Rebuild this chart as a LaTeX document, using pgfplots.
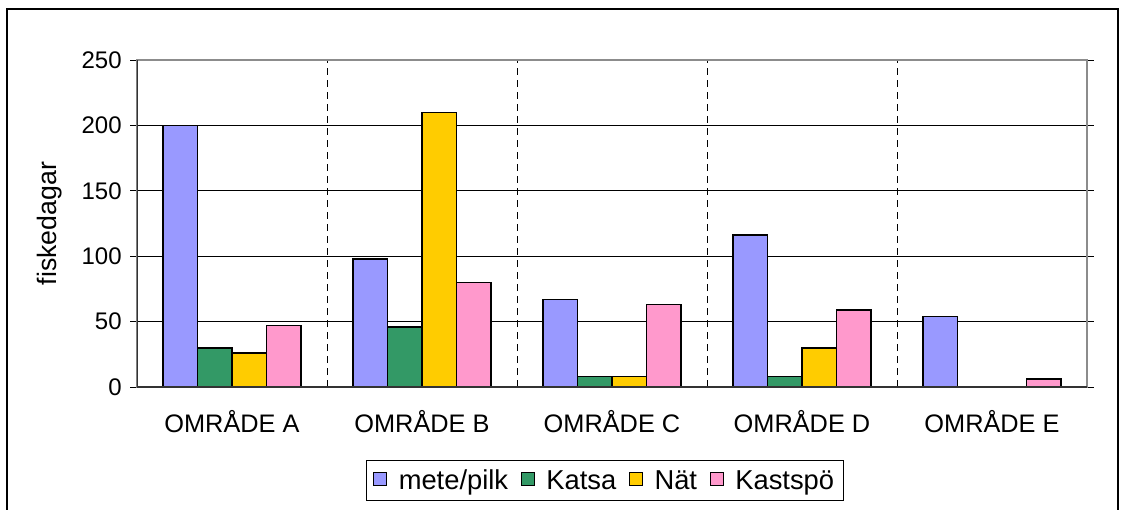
\documentclass[border=0pt]{standalone}
\usepackage{fontspec}
\setmainfont{Liberation Sans}
\usepackage{pgfplots}
\pgfplotsset{compat=1.18}
\definecolor{cmete}{HTML}{9999FF}
\definecolor{ckatsa}{HTML}{339966}
\definecolor{cnat}{HTML}{FFCC00}
\definecolor{ckast}{HTML}{FF99CC}
\begin{document}
\begin{tikzpicture}
\useasboundingbox (-102.75pt,-92.25pt) rectangle (742.5pt,290.25pt);
\draw[black, line width=0.8pt] (-97.5pt,-100pt) -- (-97.5pt,283.5pt) -- (735.75pt,283.5pt) -- (735.75pt,-100pt);
\begin{axis}[
  at={(0pt,0pt)}, anchor=south west,
  scale only axis, width=712.5pt, height=245.25pt,
  ybar=0pt, bar width=25.8pt,
  xmin=-0.5, xmax=4.5, ymin=0, ymax=250,
  xtick={0,1,2,3,4},
  xticklabels={OMRÅDE A,OMRÅDE B,OMRÅDE C,OMRÅDE D,OMRÅDE E},
  minor xtick={0.5,1.5,2.5,3.5},
  xminorgrids, minor x grid style={black, line width=0.6pt, dash pattern=on 5pt off 4pt},
  ytick={0,50,...,250},
  ymajorgrids, major y grid style={black, line width=0.6pt},
  major x tick style={draw=none},
  minor x tick style={draw=none},
  y tick style={black, line width=0.6pt},
  tick align=outside, major tick length=5pt,
  axis line style={draw=black!45, line width=0.8pt},
  /pgf/number format/assume math mode=true,
  yticklabel style={font=\fontsize{18pt}{21pt}\selectfont, xshift=-3pt},
  xticklabel style={font=\fontsize{19pt}{22pt}\selectfont, yshift=-9pt},
  ylabel={fiskedagar},
  ylabel style={font=\fontsize{20pt}{23pt}\selectfont, yshift=8pt},
  legend columns=4,
  legend style={at={(0.4926,-0.2232)}, anchor=north, draw=black, line width=0.6pt,
    font=\fontsize{20.5pt}{23pt}\selectfont, inner xsep=5pt, inner ysep=5pt,
    cells={anchor=west, inner sep=1pt},
    /tikz/every odd column/.append style={column sep=6.5pt},
    /tikz/every even column/.append style={column sep=7.5pt}},
  legend image code/.code={\draw[#1, draw=black, line width=0.7pt] (0pt,-4pt) rectangle (10pt,6pt);},
]
\addplot[fill=cmete, draw=black, line width=1.2pt] coordinates {(0,200) (1,98) (2,67) (3,116) (4,54)};
\addplot[fill=ckatsa, draw=black, line width=1.2pt] coordinates {(0,30) (1,46) (2,8) (3,8)};
\addplot[fill=cnat, draw=black, line width=1.2pt] coordinates {(0,26) (1,210) (2,8) (3,30)};
\addplot[fill=ckast, draw=black, line width=1.2pt] coordinates {(0,47) (1,80) (2,63) (3,59) (4,6)};
\legend{mete/pilk,Katsa,Nät,Kastspö}
\draw[black!45, line width=0.8pt] (rel axis cs:0,1) -- (rel axis cs:1,1) -- (rel axis cs:1,0);
\draw[black!80, line width=0.9pt] (rel axis cs:0,1) -- (rel axis cs:0,0) -- (rel axis cs:1,0);
\end{axis}
\end{tikzpicture}
\end{document}
